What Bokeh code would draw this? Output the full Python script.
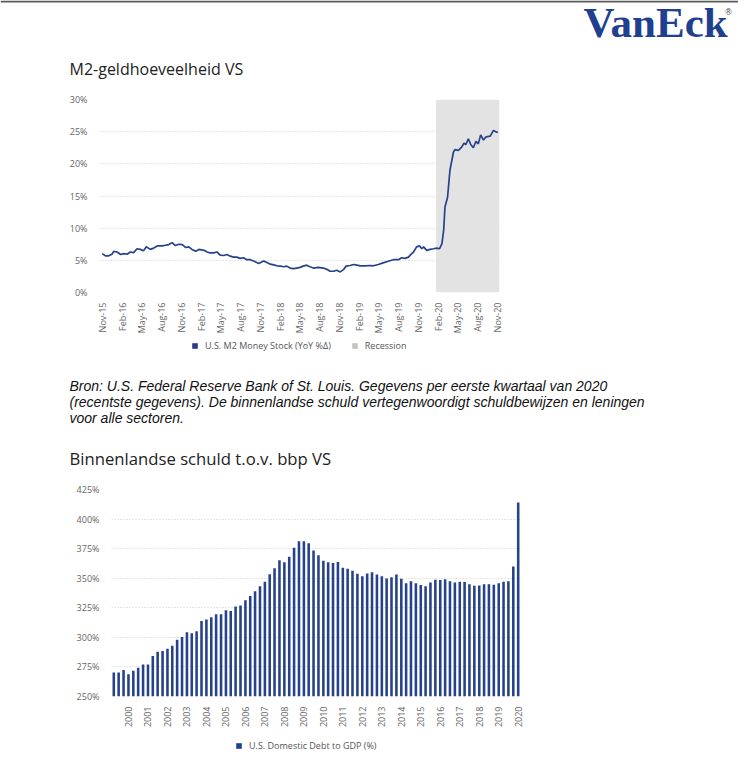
import math
import pandas as pd
from bokeh.plotting import figure
from bokeh.models import (ColumnDataSource, Range1d, FixedTicker, DatetimeTickFormatter,
                          PrintfTickFormatter, Legend, LegendItem, Label, BoxAnnotation)
from bokeh.layouts import column
from bokeh.embed import file_html
from bokeh.resources import INLINE

# ---------------- data ----------------
m2_dates = [
    "2015-11-01", "2015-11-16", "2015-12-01", "2015-12-16", "2015-12-24", "2016-01-09",
    "2016-01-25", "2016-02-09", "2016-02-24", "2016-03-10", "2016-03-25", "2016-04-10",
    "2016-04-25", "2016-05-10", "2016-05-23", "2016-06-10", "2016-06-26", "2016-07-14",
    "2016-08-04", "2016-08-19", "2016-09-04", "2016-09-19", "2016-10-04", "2016-10-20",
    "2016-11-05", "2016-11-20", "2016-12-05", "2016-12-20", "2017-01-06", "2017-01-21",
    "2017-02-14", "2017-02-28", "2017-03-14", "2017-03-29", "2017-04-14", "2017-04-29",
    "2017-05-15", "2017-05-30", "2017-06-15", "2017-06-30", "2017-07-15", "2017-07-30",
    "2017-08-15", "2017-08-30", "2017-09-15", "2017-10-01", "2017-10-24", "2017-11-16",
    "2017-12-01", "2017-12-17", "2018-01-02", "2018-01-17", "2018-02-02", "2018-02-17",
    "2018-03-03", "2018-03-18", "2018-04-03", "2018-04-18", "2018-05-03", "2018-05-18",
    "2018-06-03", "2018-06-18", "2018-07-04", "2018-07-27", "2018-08-19", "2018-09-04",
    "2018-09-19", "2018-10-05", "2018-10-20", "2018-11-05", "2018-11-20", "2018-12-02",
    "2018-12-20", "2019-01-06", "2019-01-21", "2019-02-06", "2019-02-28", "2019-03-22",
    "2019-04-07", "2019-04-30", "2019-05-22", "2019-06-15", "2019-07-08", "2019-08-01",
    "2019-08-16", "2019-09-01", "2019-09-16", "2019-10-01", "2019-10-09", "2019-10-24",
    "2019-11-06", "2019-11-17", "2019-11-25", "2019-12-10", "2019-12-25", "2020-01-10",
    "2020-01-25", "2020-02-07", "2020-02-18", "2020-02-26", "2020-03-03", "2020-03-15",
    "2020-03-26", "2020-04-11", "2020-04-18", "2020-05-04", "2020-05-19", "2020-05-30",
    "2020-06-08", "2020-06-19", "2020-06-30", "2020-07-12", "2020-07-24", "2020-08-04",
    "2020-08-15", "2020-08-28", "2020-09-09", "2020-09-28", "2020-10-13", "2020-10-28",
    "2020-11-02",
]
m2_values = [
    6.05, 5.7, 5.7, 5.95, 6.4, 6.3,
    5.9, 6.05, 5.95, 6.3, 6.2, 6.8,
    6.7, 6.5, 7.1, 6.7, 6.9, 7.25,
    7.25, 7.35, 7.45, 7.75, 7.3, 7.5,
    7.45, 7.0, 7.1, 6.7, 6.4, 6.7,
    6.55, 6.3, 6.15, 6.15, 6.3, 5.8,
    5.75, 5.9, 5.65, 5.5, 5.5, 5.3,
    5.4, 5.1, 5.1, 4.9, 4.5, 4.9,
    4.65, 4.4, 4.3, 4.15, 4.1, 4.0,
    4.1, 3.8, 3.7, 3.8, 3.9, 4.1,
    4.25, 4.0, 3.8, 3.9, 3.8, 3.6,
    3.3, 3.3, 3.45, 3.2, 3.55, 4.1,
    4.2, 4.35, 4.25, 4.15, 4.15, 4.2,
    4.15, 4.35, 4.6, 4.85, 5.1, 5.1,
    5.4, 5.3, 5.5, 6.05, 6.25, 7.1,
    7.25, 6.8, 7.1, 6.55, 6.7, 6.8,
    6.9, 6.8, 7.6, 9.7, 13.3, 14.8,
    19.0, 21.8, 22.2, 22.1, 22.6, 23.2,
    23.0, 23.9, 23.0, 22.5, 23.5, 23.1,
    24.5, 23.7, 24.2, 24.3, 25.2, 24.9,
    25.0,
]
recession_start = "2020-01-22"
m2_tick_dates = pd.date_range("2015-11-01", "2020-11-01", freq="3MS")
m2_yticks = [0, 5, 10, 15, 20, 25, 30]

debt_quarters = pd.period_range("1999Q2", "2020Q1", freq="Q").to_timestamp()
debt_values = [
    270.3, 270.3, 272.3, 268.9, 271.7, 274.2, 277.0, 277.0, 284.3, 287.9,
    288.5, 290.4, 292.9, 297.9, 300.4, 304.3, 303.5, 305.2, 313.8, 315.2,
    316.9, 319.6, 319.6, 323.0, 322.2, 326.1, 326.9, 331.4, 335.0, 338.9,
    343.3, 347.0, 353.4, 358.4, 365.1, 363.4, 368.1, 375.7, 381.3, 381.3,
    379.6, 373.4, 369.5, 364.8, 363.4, 362.9, 363.7, 358.9, 358.1, 356.4,
    353.7, 351.7, 353.9, 355.0, 353.1, 351.7, 349.7, 350.9, 353.1, 349.5,
    345.8, 347.5, 345.8, 344.2, 343.3, 346.4, 348.6, 348.4, 349.2, 347.5,
    346.4, 347.0, 346.7, 345.0, 343.6, 343.9, 345.0, 345.0, 344.5, 345.8,
    347.0, 347.5, 359.8, 414.1,
]
debt_year_ticks = pd.date_range("2000-01-01", "2020-01-01", freq="YS")
debt_yticks = [250, 275, 300, 325, 350, 375, 400, 425]

# ---------------- style ----------------
W = 738
FONT = "Open Sans"
NAVY = "#26428a"
TICK_COLOR = "#666666"
GRID_COLOR = "#cccccc"
NAN = float("nan")


def ms(ts):
    return [pd.Timestamp(t).timestamp() * 1000.0 for t in ts]


def text_fig(h):
    f = figure(width=W, height=h, x_range=Range1d(0, W), y_range=Range1d(h, 0),
               x_axis_type=None, y_axis_type=None, toolbar_location=None,
               output_backend="svg", min_border=0, title=None, frame_align=False)
    f.outline_line_color = None
    return f


def style_axes(p, yticks, ytick_fmt):
    for ax in (p.xaxis, p.yaxis):
        ax.axis_line_color = None
        ax.major_tick_line_color = None
        ax.minor_tick_line_color = None
        ax.major_label_text_font = FONT
        ax.major_label_text_font_size = "9px"
        ax.major_label_text_color = TICK_COLOR
    p.yaxis.ticker = FixedTicker(ticks=yticks)
    p.yaxis.formatter = PrintfTickFormatter(format=ytick_fmt)
    p.yaxis.major_label_standoff = 6
    p.xaxis.major_label_standoff = 4
    p.xaxis.major_label_orientation = math.pi / 2
    p.xgrid.visible = False
    p.ygrid.grid_line_color = GRID_COLOR
    p.ygrid.grid_line_dash = "1 2"
    p.outline_line_color = None


def dt_fmt(fmt):
    return DatetimeTickFormatter(microseconds=fmt, milliseconds=fmt, seconds=fmt, minsec=fmt,
                                 minutes=fmt, hourmin=fmt, hours=fmt, days=fmt,
                                 months=fmt, years=fmt)


def legend_fig(h, entries, loc):
    f = text_fig(h)
    items = []
    for label, color in entries:
        # legend proxy: one NaN box, never drawn in the plot area
        r = f.quad(left=[NAN], right=[NAN], top=[NAN], bottom=[NAN],
                   fill_color=color, line_color=None)
        items.append(LegendItem(label=label, renderers=[r]))
    lg = Legend(items=items, location=loc, orientation="horizontal")
    lg.padding = 0
    lg.margin = 0
    lg.spacing = 20
    lg.label_standoff = 7
    lg.glyph_width = 7
    lg.glyph_height = 7
    lg.label_height = 10
    lg.label_text_font = FONT
    lg.label_text_font_size = "9px"
    lg.label_text_color = "#555555"
    lg.label_text_baseline = "middle"
    lg.border_line_color = None
    lg.background_fill_alpha = 0
    f.add_layout(lg)
    return f


# ---------------- header (page y 0-88) ----------------
head = text_fig(88)
head.add_layout(BoxAnnotation(top=0, bottom=2, fill_color="#5a5a5a", fill_alpha=1.0,
                              line_color=None))
head.add_layout(Label(x=583, y=22, text="VanEck", text_font="Liberation Serif",
                      text_font_style="bold", text_font_size="43px", text_color="#1f3f8f",
                      text_baseline="alphabetic"))
head.add_layout(Label(x=724, y=12, text="®", text_font="DejaVu Sans",
                      text_font_size="8px", text_color="#555555", text_baseline="alphabetic"))
head.add_layout(Label(x=69, y=68, text="M2-geldhoeveelheid VS", text_font=FONT,
                      text_font_size="16px", text_color="#222222", text_baseline="alphabetic"))

# ---------------- chart 1 (page y 88-338) ----------------
p1 = figure(width=W, height=250, x_axis_type="datetime",
            x_range=Range1d(pd.Timestamp("2015-10-19 12:00"), pd.Timestamp("2020-11-10")),
            y_range=Range1d(0, 30), toolbar_location=None, output_backend="svg", title=None,
            min_border_left=99, min_border_right=W - 499, min_border_top=11,
            min_border_bottom=46, frame_align=False)
style_axes(p1, m2_yticks, "%d%%")
p1.xaxis.ticker = FixedTicker(ticks=ms(m2_tick_dates))
p1.xaxis.formatter = dt_fmt("%b-%y")

p1.add_layout(BoxAnnotation(left=ms([recession_start])[0], fill_color="#e3e3e3", fill_alpha=1.0,
                            line_color=None, level="underlay"))
src1 = ColumnDataSource(dict(date=pd.to_datetime(m2_dates), value=m2_values))
p1.line("date", "value", source=src1, line_color=NAVY, line_width=1.7)

# ---------------- legend 1 (page y 338-358) ----------------
leg1 = legend_fig(20, [("U.S. M2 Money Stock (YoY %Δ)", "#2b3a8c"), ("Recession", "#c4c4c4")],
                  (191, 6))

# ---------------- middle text (page y 358-478) ----------------
mid = text_fig(120)
caption = ["Bron: U.S. Federal Reserve Bank of St. Louis. Gegevens per eerste kwartaal van 2020",
           "(recentste gegevens). De binnenlandse schuld vertegenwoordigt schuldbewijzen en leningen",
           "voor alle sectoren."]
for i, line in enumerate(caption):
    mid.add_layout(Label(x=69, y=27 + 16 * i, text=line, text_font="Liberation Sans",
                         text_font_style="italic", text_font_size="14px", text_color="#111111",
                         text_baseline="alphabetic"))
mid.add_layout(Label(x=69, y=100, text="Binnenlandse schuld t.o.v. bbp VS", text_font=FONT,
                     text_font_size="16.7px", text_color="#222222", text_baseline="alphabetic"))

# ---------------- chart 2 (page y 478-730) ----------------
p2 = figure(width=W, height=252, x_axis_type="datetime",
            x_range=Range1d(pd.Timestamp("1999-02-17"), pd.Timestamp("2020-02-13")),
            y_range=Range1d(250, 425), toolbar_location=None, output_backend="svg", title=None,
            min_border_left=111, min_border_right=W - 520, min_border_top=11,
            min_border_bottom=32, frame_align=False)
style_axes(p2, debt_yticks, "%d%%")
p2.xaxis.ticker = FixedTicker(ticks=ms(debt_year_ticks))
p2.xaxis.formatter = dt_fmt("%Y")

src2 = ColumnDataSource(dict(q=debt_quarters, v=debt_values))
p2.vbar(x="q", top="v", bottom=250, width=48 * 86400000, source=src2,
        fill_color=NAVY, line_color=None)

# ---------------- legend 2 (page y 730-754) ----------------
leg2 = legend_fig(24, [("U.S. Domestic Debt to GDP (%)", "#1f3f8c")], (235, 2))

layout = column(head, p1, leg1, mid, p2, leg2, spacing=0)
open("out.html", "w").write(file_html(layout, INLINE))
